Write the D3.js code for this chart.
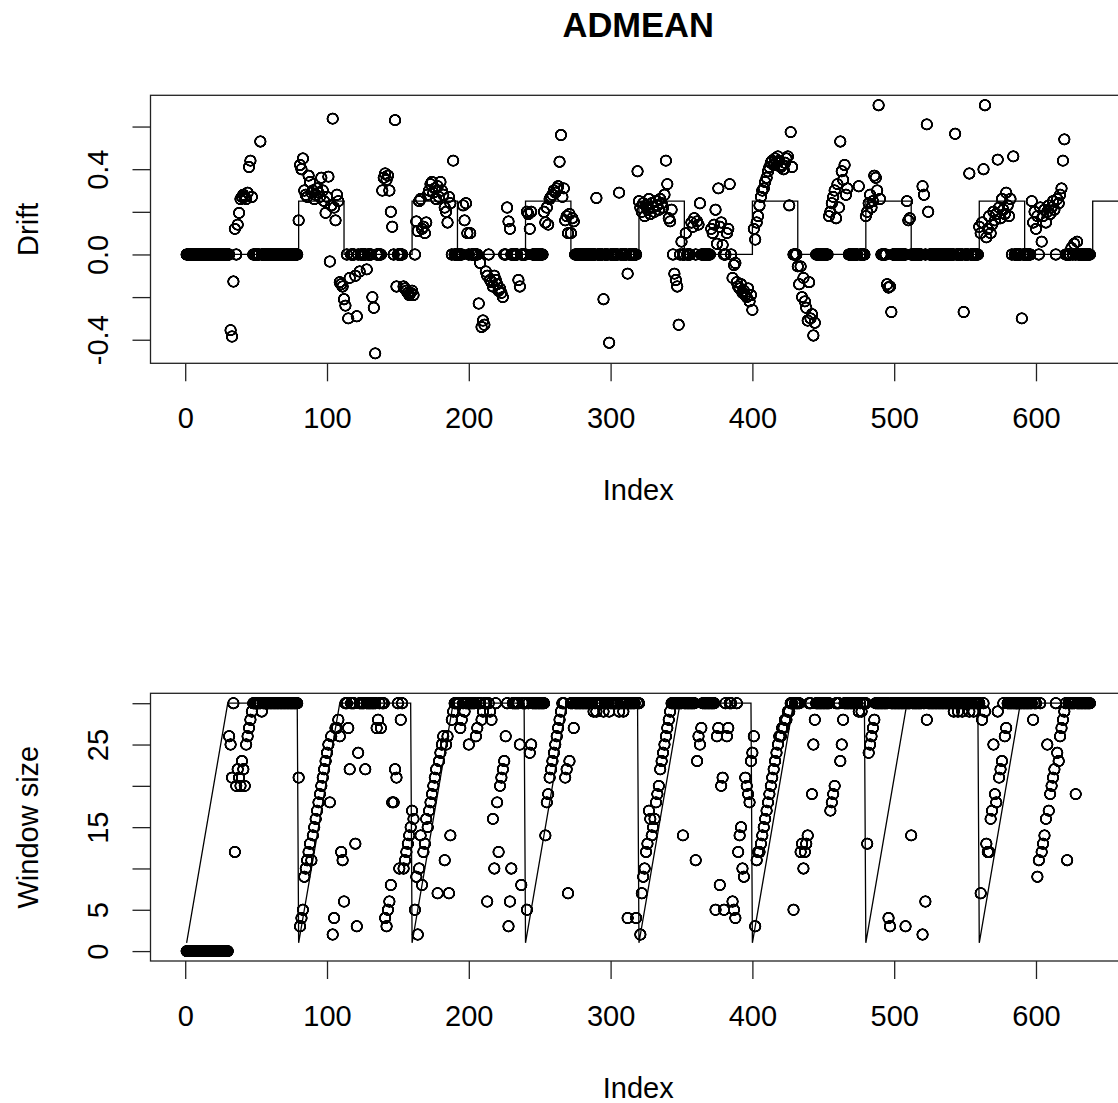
<!DOCTYPE html>
<html>
<head>
<meta charset="utf-8">
<script src="https://cdn.jsdelivr.net/npm/d3@7"></script>
<style>
  html, body { margin: 0; padding: 0; background: #ffffff; }
  svg { display: block; }
</style>
</head>
<body>
<svg id="chart" width="1118" height="1103"></svg>
<script>
// Estimated drift per observation (top panel)
const drift = [
  0,0,0,0,0,0,0,0,0,0,
  0,0,0,0,0,0,0,0,0,0,
  0,0,0,0,0,0,0,0,0,0,
  0,-0.355,-0.385,-0.127,0.12,0,0.14,0.195,0.26,0.27,
  0.28,0.27,0.26,0.29,0.41,0.44,0.27,0,0,0,
  0,0,0.53,0,0,0,0,0,0,0,
  0,0,0,0,0,0,0,0,0,0,
  0,0,0,0,0,0,0,0,0,0.16,
  0.42,0.40,0.45,0.30,0.28,0.27,0.37,0.34,0.29,0.30,
  0.26,0.28,0.31,0.29,0.27,0.36,0.30,0.25,0.195,0.27,
  0.365,-0.033,0.23,0.637,0.22,0.16,0.28,0.25,-0.13,-0.14,
  -0.15,-0.21,-0.24,0,-0.30,-0.11,0,0,0,-0.10,
  -0.29,0,-0.08,0,0,0,0,-0.07,0,0,
  0,-0.20,-0.25,-0.464,0,0,0,0,0.30,0.36,
  0.38,0.35,0.37,0.30,0.20,0.13,0,0.63,-0.15,0,
  0,0,0,-0.15,-0.16,-0.17,-0.18,-0.19,-0.18,-0.17,
  -0.19,0,0.155,0.11,0.25,0.26,0.12,0.13,0.10,0.15,
  0.28,0.30,0.33,0.34,0.29,0.31,0.26,0.32,0.27,0.34,
  0.30,0.28,0.22,0.20,0.15,0.27,0.24,0,0.44,0,
  0,0,0,0,0,0.23,0.16,0.24,0.10,0,
  0.10,0,0,0,0,0,-0.23,-0.04,-0.34,-0.31,
  -0.33,-0.08,-0.10,0,-0.12,-0.13,-0.15,-0.10,-0.12,-0.14,
  -0.17,-0.16,-0.18,-0.20,0,0,0.22,0.155,0.12,0,
  0,0,0,0,-0.12,-0.15,0,0,0,0,
  0.20,0.19,0.12,0.20,0,0,0,0,0,0,
  0,0,0.20,0.15,0.22,0.14,0.26,0.27,0.28,0.30,
  0.29,0.31,0.32,0.435,0.56,0.27,0.31,0.16,0.18,0.10,
  0.19,0.10,0.17,0.155,0,0,0,0,0,0,
  0,0,0,0,0,0,0,0,0,0.265,
  0,0,0,0,-0.21,0,0,0,-0.414,0,
  0,0,0,0,0,0.29,0,0,0,0,
  0,-0.09,0,0,0,0,0,0,0.39,0.25,
  0.22,0.20,0.24,0.18,0.23,0.21,0.26,0.19,0.24,0.22,
  0.20,0.25,0.23,0.21,0.26,0.24,0.22,0.28,0.44,0.33,
  0.17,0.155,0.21,0,-0.09,-0.12,-0.15,-0.33,0,0.06,
  0,0,0.10,0,0,0,0.15,0.13,0.17,0,
  0.155,0.14,0.24,0,0,0,0,0,0,0,
  0.12,0.10,0.14,0.21,0.05,0.31,0.13,0.15,0.045,0,
  0,0.10,0.12,0.33,0,-0.11,-0.05,-0.04,-0.13,-0.15,
  -0.16,-0.14,-0.18,-0.17,-0.19,-0.20,-0.16,-0.22,-0.19,-0.26,
  0.12,0.07,0.15,0.18,0.23,0.27,0.30,0.31,0.34,0.36,
  0.39,0.41,0.43,0.44,0.42,0.45,0.43,0.46,0.44,0.41,
  0.42,0.40,0.43,0.45,0.46,0.23,0.574,0.41,0,0,
  0,-0.056,-0.14,-0.056,-0.20,-0.11,-0.22,-0.25,-0.31,-0.13,
  -0.30,-0.28,-0.38,-0.32,0,0,0,0,0,0,
  0,0,0,0.18,0.20,0.24,0.27,0.30,0.17,0.33,
  0.22,0.53,0.39,0.35,0.42,0.28,0.31,0,0,0,
  0,0,0,0,0.32,0,0,0,0,0.18,
  0.20,0.24,0.28,0.22,0.25,0.37,0.36,0.30,0.70,0.26,
  0,0,0,0,-0.14,-0.155,-0.15,-0.27,0,0,
  0,0,0,0,0,0,0,0,0.25,0.16,
  0.17,0,0,0,0,0,0,0,0,0.32,
  0.28,0,0.61,0.20,0,0,0,0,0,0,
  0,0,0,0,0,0,0,0,0,0,
  0,0,0.566,0,0,0,0,0,-0.27,0,
  0,0,0.38,0,0,0,0,0,0,0.13,
  0.10,0.15,0.40,0.70,0.08,0.12,0.18,0.10,0.14,0.20,
  0.16,0.19,0.445,0.22,0.17,0.26,0.21,0.19,0.29,0.23,
  0.18,0.26,0,0.46,0,0,0,0,0,-0.30,
  0,0,0,0,0,0,0.25,0.15,0.20,0.12,
  0.18,0,0.22,0.06,0.18,0.21,0.15,0.20,0.23,0.19,
  0.22,0.25,0.21,0,0.26,0.24,0.28,0.31,0.44,0.54,
  0,0,0,0,0.03,0,0.05,0,0.06,0,
  0,0,0,0,0,0,0,0
];

// Estimated window size per observation (bottom panel)
const windowSize = [
  0,0,0,0,0,0,0,0,0,0,
  0,0,0,0,0,0,0,0,0,0,
  0,0,0,0,0,0,0,0,0,0,
  26,25,21,30,12,20,22,21,20,23,
  22,20,25,26,27,28,29,30,30,30,
  30,30,30,29,30,30,30,30,30,30,
  30,30,30,30,30,30,30,30,30,30,
  30,30,30,30,30,30,30,30,30,21,
  3,4,5,9,10,11,12,13,11,14,
  15,16,17,18,19,20,21,22,23,24,
  25,18,26,2,4,27,27,28,26,12,
  11,6,30,30,27,22,30,30,30,13,
  3,24,30,30,30,30,22,30,30,30,
  30,30,30,30,27,28,30,27,30,30,
  4,3,5,6,8,18,18,22,21,30,
  10,28,30,10,11,12,13,14,15,17,
  16,5,9,2,10,14,8,12,13,16,
  15,17,18,19,20,21,22,7,23,24,
  25,26,11,25,26,7,14,28,29,30,
  30,30,30,27,28,30,29,30,30,25,
  30,30,30,30,26,27,30,30,28,29,
  30,30,6,30,29,28,16,10,30,18,
  12,20,21,22,23,26,30,3,6,10,
  30,30,30,30,30,25,8,30,30,30,
  5,30,24,25,30,30,30,30,30,30,
  30,30,30,14,18,19,21,22,23,24,
  25,26,27,28,29,30,30,21,22,7,
  23,30,30,27,30,30,30,30,30,30,
  30,30,30,30,30,30,30,29,30,29,
  30,30,30,30,29,30,30,30,29,30,
  30,30,30,30,30,29,30,30,29,30,
  30,4,30,30,30,30,30,4,30,30,
  2,7,9,10,12,13,17,16,14,15,
  16,18,19,20,22,23,24,25,26,27,
  28,29,30,30,30,30,30,30,30,30,
  14,30,30,30,30,30,30,30,30,11,
  23,26,25,27,30,30,30,30,30,30,
  30,30,30,5,26,27,8,20,21,5,
  30,26,27,30,30,6,5,4,30,12,
  14,15,10,9,21,20,19,18,23,24,
  26,3,11,12,12,13,14,15,16,17,
  18,19,20,21,22,23,24,25,26,26,
  27,27,28,28,29,29,30,30,5,30,
  30,30,30,12,13,10,12,13,14,30,
  30,19,25,28,30,30,30,30,30,30,
  30,30,30,30,17,18,19,20,30,30,
  30,23,25,28,30,30,30,30,30,30,
  30,30,30,30,29,30,29,30,30,30,
  13,24,25,26,27,28,30,30,30,30,
  30,30,30,30,30,4,3,30,30,30,
  30,30,30,30,30,30,30,3,30,30,
  30,14,30,30,30,30,30,30,30,2,
  30,6,28,30,30,30,30,30,30,30,
  30,30,30,30,30,30,30,30,30,30,
  30,29,30,30,29,30,30,29,30,30,
  30,30,29,30,30,29,30,30,30,30,
  7,28,30,29,13,12,12,16,17,25,
  19,18,29,21,22,23,30,26,27,30,
  30,30,30,30,30,30,30,30,30,30,
  30,30,30,30,30,30,30,28,30,30,
  9,11,30,12,13,14,16,25,17,19,
  20,21,22,30,24,23,26,27,28,29,
  30,11,30,30,30,30,30,19,30,30,
  30,30,30,30,30,30,30,30
];

// Reference drift level (drawn as a step function)
const driftStepIndex = [1, 80, 112, 160, 192, 240, 272, 320, 352, 400, 432, 480, 512, 560, 592, 640, 672];
const driftStepLevel = [0, 0.25, 0, 0.25, 0, 0.25, 0, 0.25, 0, 0.25, 0, 0.25, 0, 0.25, 0, 0.25, 0.25];

// Reference window size (sawtooth vertices)
const sawIndex = [1, 30, 79, 80, 109, 159, 160, 189, 239, 240, 269, 319, 320, 349, 399, 400, 429, 479, 480, 509, 559, 560, 589, 638];
const sawSize  = [1, 30, 30, 1, 30, 30, 1, 30, 30, 1, 30, 30, 1, 30, 30, 1, 30, 30, 1, 30, 30, 1, 30, 30];

// Axis ticks and labels
const xTicks = [0, 100, 200, 300, 400, 500, 600];
const xTickLabels = ["0", "100", "200", "300", "400", "500", "600"];
const driftTicks = [-0.4, -0.2, 0, 0.2, 0.4, 0.6];
const driftTickLabels = ["-0.4", "", "0.0", "", "0.4", ""];
const sizeTicks = [0, 5, 10, 15, 20, 25, 30];
const sizeTickLabels = ["0", "5", "", "15", "", "25", ""];

const chartTitle = "ADMEAN";
const xTitle = "Index";
const driftTitle = "Drift";
const sizeTitle = "Window size";

// ---------------------------------------------------------------
const FONT = "Arial, 'Liberation Sans', Helvetica, sans-serif";
const AXIS_FS = 29;
const svg = d3.select("#chart");

// Boost the alpha of anti-aliased strokes so that heavily overlapping
// circles merge into solid ink.
const defs = svg.append("defs");
const inkFilter = defs.append("filter")
  .attr("id", "ink")
  .attr("filterUnits", "userSpaceOnUse")
  .attr("x", 0).attr("y", 0).attr("width", 1118).attr("height", 1103);
inkFilter.append("feComponentTransfer")
  .append("feFuncA")
  .attr("type", "linear")
  .attr("slope", 2.2)
  .attr("intercept", 0);

const n = drift.length;
const idx = d3.range(1, n + 1);

// 4% padding on each side of the data range
function padded(ext) {
  const d = (ext[1] - ext[0]) * 0.04;
  return [ext[0] - d, ext[1] + d];
}

const boxLeft = 150.5, boxRight = 1126;
const x = d3.scaleLinear().domain(padded([1, n])).range([boxLeft, boxRight]);

function drawPanel(opt) {
  const { top, bottom, values, yTicks, yTickLabels, yTitle, refX, refY, curve, clipId } = opt;
  const y = d3.scaleLinear().domain(padded(d3.extent(values))).range([bottom, top]);
  const g = svg.append("g");

  g.append("clipPath").attr("id", clipId)
    .append("rect")
    .attr("x", boxLeft).attr("y", top)
    .attr("width", boxRight - boxLeft).attr("height", bottom - top);

  const plot = g.append("g").attr("clip-path", `url(#${clipId})`);

  // observations as open circles
  plot.append("g")
    .attr("filter", "url(#ink)")
    .selectAll("circle")
    .data(values)
    .join("circle")
    .attr("cx", (d, i) => x(idx[i]))
    .attr("cy", d => y(d))
    .attr("r", 5.2)
    .attr("fill", "none")
    .attr("stroke", "#000")
    .attr("stroke-width", 1.5);

  // reference line
  const line = d3.line()
    .x((d, i) => x(refX[i]))
    .y(d => y(d))
    .curve(curve);
  plot.append("path")
    .attr("d", line(refY))
    .attr("fill", "none")
    .attr("stroke", "#000")
    .attr("stroke-width", 1.3);

  // plot frame
  g.append("rect")
    .attr("x", boxLeft).attr("y", top)
    .attr("width", boxRight - boxLeft).attr("height", bottom - top)
    .attr("fill", "none")
    .attr("stroke", "#222")
    .attr("stroke-width", 1.3);

  // x axis
  g.append("g")
    .attr("transform", `translate(0,${bottom})`)
    .call(d3.axisBottom(x).tickValues(xTicks).tickSize(18).tickFormat((d, i) => xTickLabels[i]))
    .call(a => a.select(".domain").remove())
    .call(a => a.selectAll(".tick line").attr("stroke", "#222").attr("stroke-width", 1.3))
    .call(a => a.selectAll(".tick text")
      .attr("y", 64.7).attr("dy", null)
      .attr("fill", "#000")
      .style("font-family", FONT).style("font-size", AXIS_FS + "px"));

  // y axis (labels parallel to the axis)
  g.append("g")
    .attr("transform", `translate(${boxLeft},0)`)
    .call(d3.axisLeft(y).tickValues(yTicks).tickSize(18).tickFormat((d, i) => yTickLabels[i]))
    .call(a => a.select(".domain").remove())
    .call(a => a.selectAll(".tick line").attr("stroke", "#222").attr("stroke-width", 1.3))
    .call(a => a.selectAll(".tick text")
      .attr("x", 0).attr("dy", null)
      .attr("text-anchor", "middle")
      .attr("transform", "translate(-42.3,0) rotate(-90)")
      .attr("fill", "#000")
      .style("font-family", FONT).style("font-size", AXIS_FS + "px"));

  // axis titles
  g.append("text")
    .attr("x", (boxLeft + boxRight) / 2).attr("y", bottom + 136.7)
    .attr("text-anchor", "middle")
    .style("font-family", FONT).style("font-size", AXIS_FS + "px")
    .text(xTitle);

  g.append("text")
    .attr("transform", `translate(38.3,${(top + bottom) / 2}) rotate(-90)`)
    .attr("text-anchor", "middle")
    .style("font-family", FONT).style("font-size", AXIS_FS + "px")
    .text(yTitle);

  return y;
}

drawPanel({
  top: 95.3, bottom: 363.3,
  values: drift,
  yTicks: driftTicks, yTickLabels: driftTickLabels, yTitle: driftTitle,
  refX: driftStepIndex, refY: driftStepLevel, curve: d3.curveStepAfter,
  clipId: "clip-drift"
});

drawPanel({
  top: 693.3, bottom: 961,
  values: windowSize,
  yTicks: sizeTicks, yTickLabels: sizeTickLabels, yTitle: sizeTitle,
  refX: sawIndex, refY: sawSize, curve: d3.curveLinear,
  clipId: "clip-size"
});

// main title
svg.append("text")
  .attr("x", (boxLeft + boxRight) / 2)
  .attr("y", 36.7)
  .attr("text-anchor", "middle")
  .style("font-family", FONT)
  .style("font-size", "34.5px")
  .style("font-weight", "bold")
  .text(chartTitle);
</script>
</body>
</html>
